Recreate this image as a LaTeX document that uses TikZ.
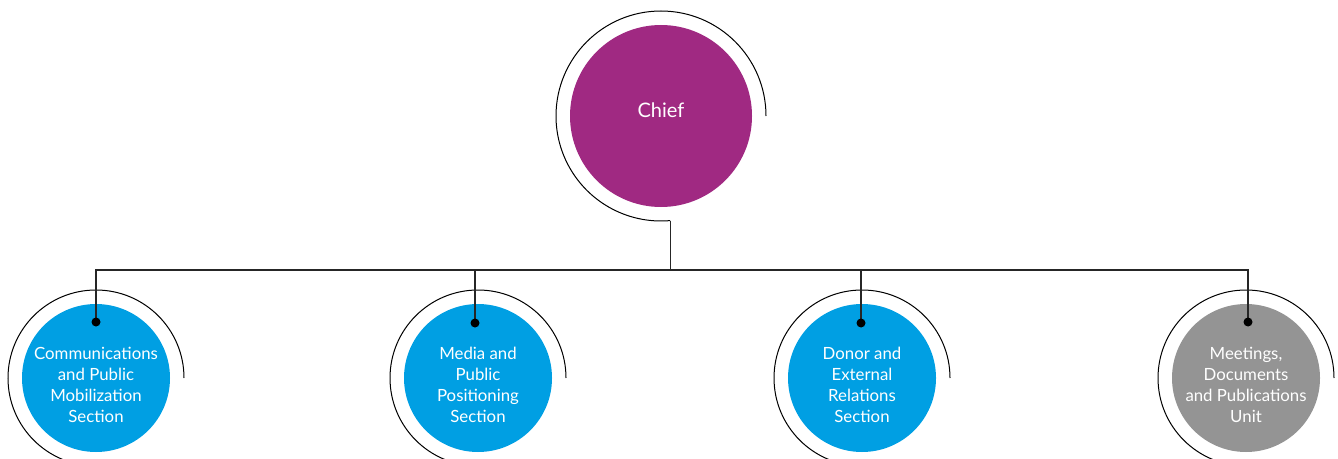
\documentclass[tikz,border=0pt]{standalone}
\usepackage{fontspec}
\setmainfont{Lato}
\usepackage{tikz}
\usetikzlibrary{arrows.meta,positioning}

\definecolor{chiefpurple}{RGB}{160,41,130}
\definecolor{sectionblue}{RGB}{0,159,227}
\definecolor{unitgrey}{RGB}{148,148,148}

\begin{document}
\begin{tikzpicture}[
  x=0.75pt, y=0.75pt,
  chiefcircle/.style={circle, fill=chiefpurple, minimum size=136.5pt, inner sep=0pt},
  unitcircle/.style={circle, fill=sectionblue, minimum size=111pt, inner sep=0pt},
  chieftext/.style={text=white, font=\fontsize{15}{18}\selectfont},
  unittext/.style={text=white, align=center, font=\fontsize{12.6}{15.75}\selectfont},
  ring/.style={draw=black, line width=0.75pt},
  link/.style={draw=black!85, line width=0.8pt},
  dot/.style={fill=black}
]
\useasboundingbox (0,0) rectangle (1338,458);
\clip (0,0) rectangle (1338,458);

% Chief
\node[chiefcircle] (chief) at (661,342) {};
\node[chieftext] (chieflabel) at ([yshift=4.5]chief.center) {Chief};
\draw[ring] (chief.center) ++(0:105) arc[start angle=0, end angle=275, radius=105] coordinate (chieftail);

% Sections and unit
\node[unitcircle] (sec1) at (96,80) {};
\node[unitcircle] (sec2) at (478,80) {};
\node[unitcircle] (sec3) at (862,80) {};
\node[unitcircle, fill=unitgrey] (sec4) at (1246,80) {};
\node[unittext] (sec1label) at ([yshift=-5]sec1.center) {Communications\\and Public\\Mobilization\\Section};
\node[unittext] (sec2label) at ([yshift=-5]sec2.center) {Media and\\Public\\Positioning\\Section};
\node[unittext] (sec3label) at ([yshift=-5]sec3.center) {Donor and\\External\\Relations\\Section};
\node[unittext] (sec4label) at ([yshift=-5]sec4.center) {Meetings,\\Documents\\and Publications\\Unit};

% Rings round the lower circles
\foreach \s in {1,...,4}
  \draw[ring] (sec\s.center) ++(0:88) arc[start angle=0, end angle=270, radius=88];

% Connectors
\coordinate (bus) at (chieftail |- 0,188);
\coordinate (dot1) at (96,136);
\coordinate (dot2) at (475,135);
\coordinate (dot3) at (861,135);
\coordinate (dot4) at (1248,136);
\draw[link] (chieftail) -- (bus);
\foreach \s in {1,...,4} {
  \draw[link] (bus) -| (dot\s);
  \fill[dot] (dot\s) circle (4.5);
}

\end{tikzpicture}
\end{document}
